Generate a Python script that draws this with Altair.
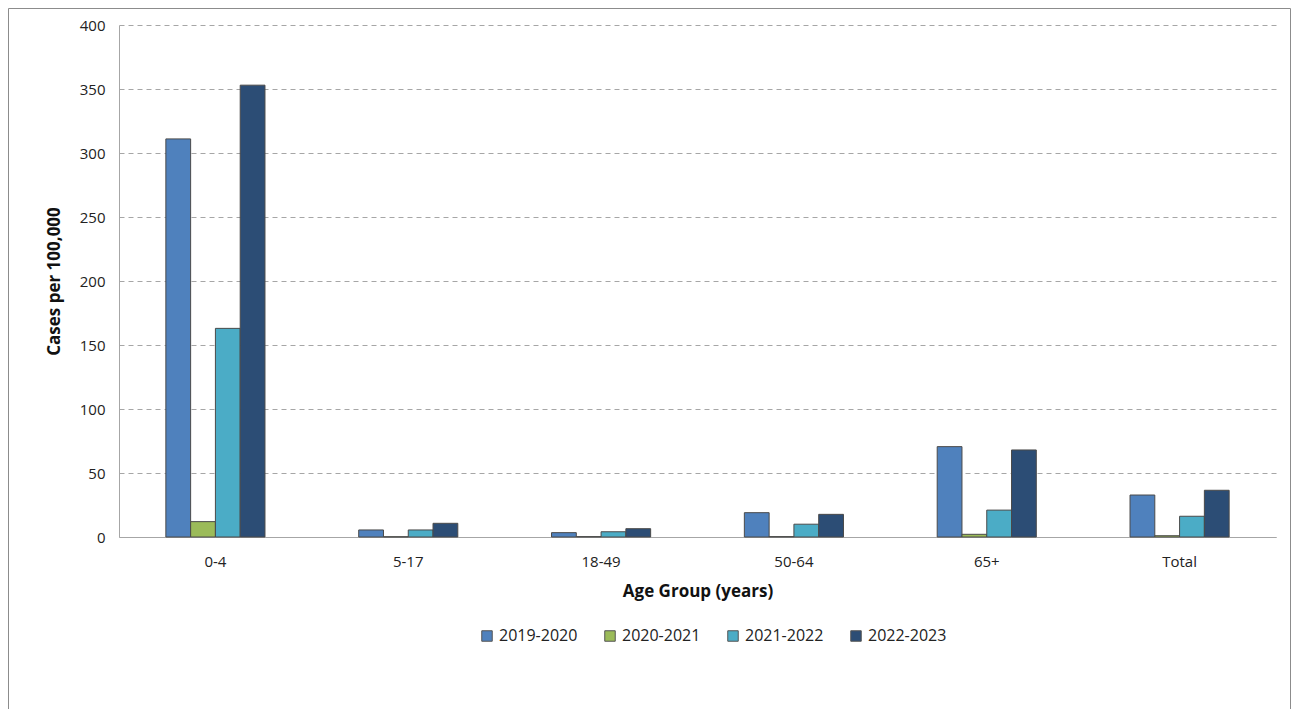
import altair as alt
import pandas as pd

age_groups = ["0-4", "5-17", "18-49", "50-64", "65+", "Total"]
seasons = ["2019-2020", "2020-2021", "2021-2022", "2022-2023"]
v_2019_2020 = [311, 5.5, 3.4, 19, 70.6, 32.8]
v_2020_2021 = [12, 0.2, 0.3, 0.3, 2.1, 1.0]
v_2021_2022 = [163, 5.5, 4.1, 10, 21, 16.2]
v_2022_2023 = [353, 10.7, 6.5, 17.7, 68, 36.5]
colors = ["#4F81BD", "#9BBB59", "#4BACC6", "#2C4D75"]

rows = []
for s, vals in zip(seasons, [v_2019_2020, v_2020_2021, v_2021_2022, v_2022_2023]):
    for g, v in zip(age_groups, vals):
        rows.append({"age": g, "season": s, "value": v})
df = pd.DataFrame(rows)

FONT = "Open Sans"

bars = alt.Chart(df).mark_bar(stroke="#4a4a4a", strokeWidth=1).encode(
    x=alt.X("age:N", sort=age_groups,
            scale=alt.Scale(paddingInner=0.486, paddingOuter=0.243),
            axis=alt.Axis(title="Age Group (years)", labelAngle=0, ticks=False,
                          labelPadding=17, titlePadding=14, labelFontSize=15,
                          titleFontSize=17, titleFontWeight="bold",
                          domainColor="#a6a6a6", labelColor="#222", titleColor="#111")),
    xOffset=alt.XOffset("season:N", sort=seasons, scale=alt.Scale(paddingInner=0, paddingOuter=0)),
    y=alt.Y("value:Q", scale=alt.Scale(domain=[0, 400]),
            axis=alt.Axis(title="Cases per 100,000", values=list(range(0, 401, 50)),
                          ticks=False, labelPadding=14, titlePadding=16,
                          labelFontSize=15, titleFontSize=17, titleFontWeight="bold",
                          grid=True, gridDash=[5, 4], gridColor="#a6a6a6",
                          domainColor="#a6a6a6", labelColor="#222", titleColor="#111")),
    color=alt.Color("season:N", sort=seasons,
                    scale=alt.Scale(domain=seasons, range=colors),
                    legend=alt.Legend(title=None, orient="none", legendX=360, legendY=603,
                                      direction="horizontal", columns=4,
                                      symbolType="square", symbolSize=110,
                                      symbolStrokeColor="#555", symbolStrokeWidth=1,
                                      labelFontSize=16, labelColor="#222",
                                      columnPadding=24, labelOffset=4)),
)

border = alt.Chart(pd.DataFrame({"a": [0]})).mark_rect(
    fill=None, stroke="#8c8c8c", strokeWidth=1, clip=False
).encode(
    x=alt.value(-110.5), x2=alt.value(1171.5),
    y=alt.value(-16.5), y2=alt.value(720),
)

chart = alt.layer(border, bars).properties(
    width=1157, height=512,
    autosize=alt.AutoSizeParams(type="none"),
    padding={"left": 111, "top": 17, "right": 15, "bottom": 172},
).configure(font=FONT).configure_view(stroke=None)

chart.save("out.html", embed_options={"renderer": "svg", "actions": False})
